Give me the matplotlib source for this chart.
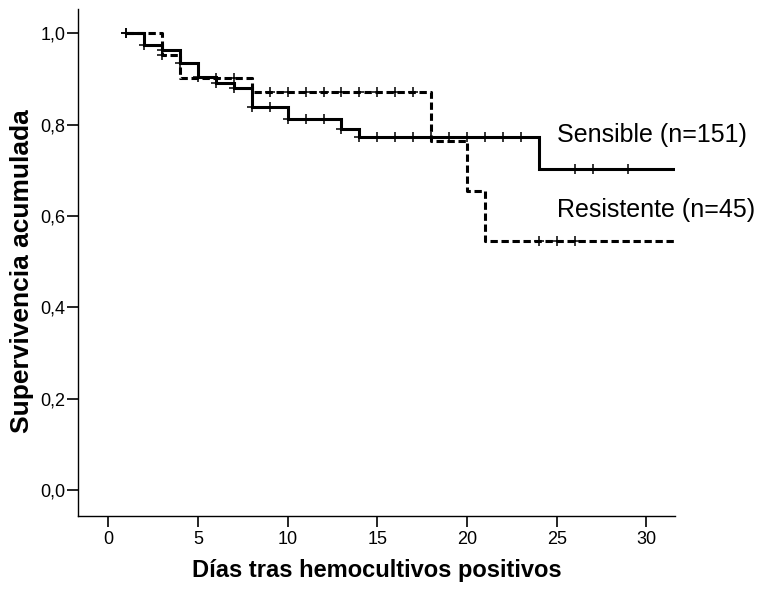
import numpy as np
import matplotlib
matplotlib.use("Agg")
import matplotlib.pyplot as plt

plt.rcParams['font.family'] = ['Liberation Sans', 'DejaVu Sans']

# Kaplan-Meier step data: event times and survival after each step
sens_times = [1, 2, 3, 4, 5, 6, 7, 8, 10, 13, 14, 24]
sens_surv = [1.0, 0.974, 0.964, 0.934, 0.904, 0.890, 0.879, 0.839, 0.812, 0.791, 0.773, 0.702]
sens_end = 32
sens_censored = [1, 2, 3, 4, 5, 6, 7, 8, 9, 10, 11, 12, 13, 14, 15, 16, 17,
                 18, 19, 20, 21, 22, 23, 26, 27, 29]

res_times = [1, 3, 4, 8, 18, 20, 21]
res_surv = [1.0, 0.953, 0.903, 0.872, 0.764, 0.655, 0.546]
res_end = 32
res_censored = [1, 3, 6, 7, 9, 10, 11, 12, 13, 14, 15, 16, 17, 24, 25, 26]

sens_label = "Sensible (n=151)"
res_label = "Resistente (n=45)"
x_ticks = [0, 5, 10, 15, 20, 25, 30]
y_ticks = [0.0, 0.2, 0.4, 0.6, 0.8, 1.0]
y_ticklabels = ["0,0", "0,2", "0,4", "0,6", "0,8", "1,0"]


def step_value(times, surv, t):
    idx = np.searchsorted(times, t, side="right") - 1
    return surv[max(idx, 0)]


fig = plt.figure(figsize=(7.71, 5.93), dpi=100)
ax = fig.add_axes([0.1016, 0.1298, 0.774, 0.855])

# Sensible: solid line
sx = list(sens_times) + [sens_end]
sy = list(sens_surv) + [sens_surv[-1]]
ax.step(sx, sy, where="post", color="black", lw=2.2, solid_joinstyle="miter")
ax.plot(sens_censored, [step_value(sens_times, sens_surv, t) for t in sens_censored],
        ls="none", marker="+", ms=7.5, mew=1.1, color="black")

# Resistente: dashed line
rx = list(res_times) + [res_end]
ry = list(res_surv) + [res_surv[-1]]
ax.step(rx, ry, where="post", color="black", lw=2.2, dashes=(2.4, 1.2))
ax.plot(res_censored, [step_value(res_times, res_surv, t) for t in res_censored],
        ls="none", marker="+", ms=7.5, mew=1.1, color="black")

ax.text(25.0, 0.777, sens_label, fontsize=18, va="center", ha="left")
ax.text(25.0, 0.613, res_label, fontsize=18, va="center", ha="left")

ax.set_xlim(-1.67, 31.6)
ax.set_ylim(-0.057, 1.053)
ax.set_xticks(x_ticks)
ax.set_yticks(y_ticks)
ax.set_yticklabels(y_ticklabels)
ax.tick_params(axis="both", direction="out", length=8, width=1.2, labelsize=13,
               color="black", labelcolor="black")
ax.tick_params(axis="y", pad=1.5)
ax.tick_params(axis="x", pad=3)

for side in ("top", "right"):
    ax.spines[side].set_visible(False)
for side in ("left", "bottom"):
    ax.spines[side].set_linewidth(1.0)
    ax.spines[side].set_color("black")

ax.set_xlabel("Días tras hemocultivos positivos", fontsize=17, fontweight="bold", labelpad=8)
ax.set_ylabel("Supervivencia acumulada", fontsize=19, fontweight="bold")
ax.yaxis.set_label_coords(-0.074, 0.483)

fig.savefig("out.png", dpi=100, facecolor="white")
